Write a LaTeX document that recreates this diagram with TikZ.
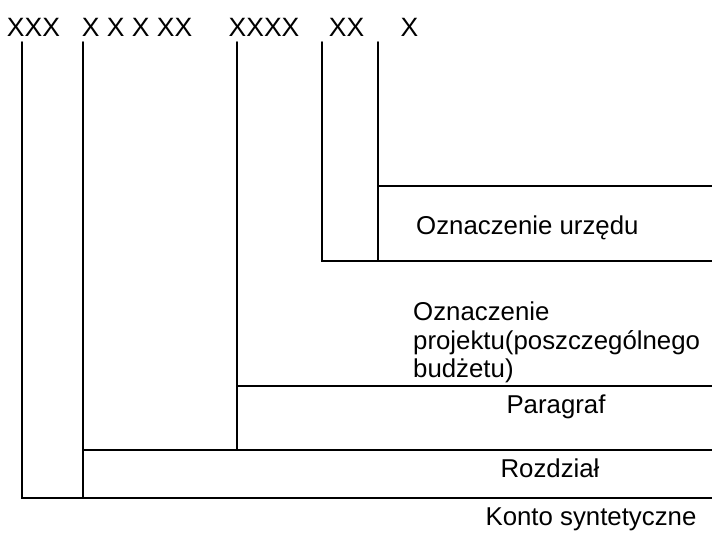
\documentclass[tikz,border=0pt]{standalone}
\usepackage{fontspec}
\setmainfont{Liberation Sans}
\begin{document}
\begin{tikzpicture}[x=1pt,y=-1pt,
  rule/.style={line width=1.7pt, line cap=round},
  txt/.style={inner sep=0pt, font=\fontsize{25.8}{28}\selectfont},
  toplabel/.style={inner sep=0pt, font=\fontsize{26.5}{30}\selectfont, anchor=base}]
\useasboundingbox (0,0) rectangle (712,533);
% top labels
\node[toplabel] (t1) at (33.5,36) {XXX};
\node[toplabel] (t2) at (137,36) {X X X XX};
\node[toplabel] (t3) at (264,36) {XXXX};
\node[toplabel] (t4) at (346.5,36) {XX};
\node[toplabel] (t5) at (409.5,36) {X};
% coordinates
\coordinate (a1) at (22,42);  \coordinate (a2) at (22,498);
\coordinate (b1) at (83,42);  \coordinate (b2) at (83,498);
\coordinate (c1) at (237,42); \coordinate (c2) at (237,450);
\coordinate (d1) at (322,42); \coordinate (d2) at (322,261);
\coordinate (e1) at (378,42); \coordinate (e2) at (378,261);
\coordinate (e3) at (378,186);
\coordinate (r1) at (712,186);
\coordinate (r2) at (712,261);
\coordinate (c3) at (237,386);
\coordinate (r3) at (712,386);
\coordinate (b3) at (83,450);
\coordinate (r4) at (712,450);
\coordinate (r5) at (712,498);
% lines
\draw[rule] (a1) -- (a2) -- (r5);
\draw[rule] (b1) -- (b2);
\draw[rule] (b3) -- (r4);
\draw[rule] (c1) -- (c2);
\draw[rule] (c3) -- (r3);
\draw[rule] (d1) -- (d2) -- (r2);
\draw[rule] (e1) -- (e2);
\draw[rule] (e3) -- (r1);
% texts
\node[txt, anchor=base west] (urz) at (416,234) {Oznaczenie urzędu};
\node[txt, anchor=base west] (pr1) at (413,320) {Oznaczenie};
\node[txt, anchor=base west] (pr2) at (413,349) {projektu(poszczególnego};
\node[txt, anchor=base west] (pr3) at (413,377) {budżetu)};
\node[txt, anchor=base] (par) at (556,413) {Paragraf};
\node[txt, anchor=base] (roz) at (550,477) {Rozdział};
\node[txt, anchor=base] (kon) at (591,525) {Konto syntetyczne};
\end{tikzpicture}
\end{document}
